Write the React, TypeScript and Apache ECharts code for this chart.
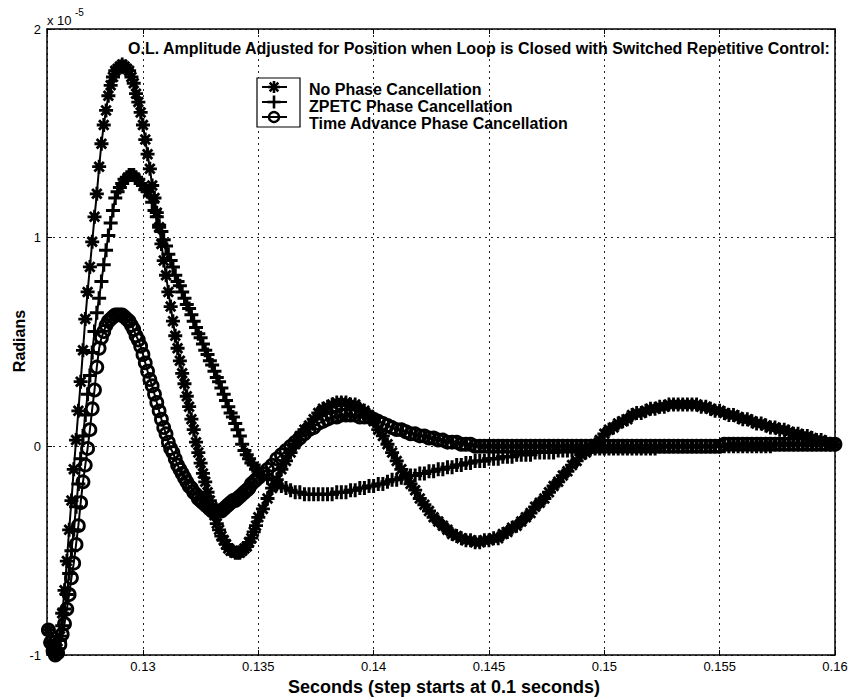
import React, { useEffect, useRef } from "react";
import * as echarts from "echarts";

// Sample times (s)
const timeSec = [
  0.1259, 0.1260, 0.1261, 0.1262, 0.1263, 0.1264, 0.1265, 0.1266, 0.1267, 0.1268,
  0.1269, 0.1270, 0.1271, 0.1272, 0.1273, 0.1274, 0.1275, 0.1276, 0.1277, 0.1278,
  0.1279, 0.1280, 0.1281, 0.1282, 0.1283, 0.1284, 0.1285, 0.1286, 0.1287, 0.1288,
  0.1289, 0.1290, 0.1291, 0.1292, 0.1293, 0.1294, 0.1295, 0.1296, 0.1297, 0.1298,
  0.1299, 0.1300, 0.1301, 0.1302, 0.1303, 0.1304, 0.1305, 0.1306, 0.1307, 0.1308,
  0.1309, 0.1310, 0.1311, 0.1312, 0.1313, 0.1314, 0.1315, 0.1316, 0.1317, 0.1318,
  0.1319, 0.1320, 0.1321, 0.1322, 0.1323, 0.1324, 0.1325, 0.1326, 0.1327, 0.1328,
  0.1329, 0.1330, 0.1331, 0.1332, 0.1333, 0.1334, 0.1335, 0.1336, 0.1337, 0.1338,
  0.1339, 0.1340, 0.1341, 0.1342, 0.1343, 0.1344, 0.1345, 0.1346, 0.1347, 0.1348,
  0.1349, 0.1350,
  0.1352, 0.1354, 0.1356, 0.1358, 0.1360, 0.1362, 0.1364, 0.1366, 0.1368, 0.1370,
  0.1372, 0.1374, 0.1376, 0.1378, 0.1380, 0.1382, 0.1384, 0.1386, 0.1388, 0.1390,
  0.1392, 0.1394, 0.1396, 0.1398, 0.1400, 0.1402, 0.1404, 0.1406, 0.1408, 0.1410,
  0.1412, 0.1414, 0.1416, 0.1418, 0.1420, 0.1422, 0.1424, 0.1426, 0.1428, 0.1430,
  0.1432, 0.1434, 0.1436, 0.1438, 0.1440, 0.1442, 0.1444, 0.1446, 0.1448, 0.1450,
  0.1452, 0.1454, 0.1456, 0.1458, 0.1460, 0.1462, 0.1464, 0.1466, 0.1468, 0.1470,
  0.1472, 0.1474, 0.1476, 0.1478, 0.1480, 0.1482, 0.1484, 0.1486, 0.1488, 0.1490,
  0.1492, 0.1494, 0.1496, 0.1498, 0.1500, 0.1502, 0.1504, 0.1506, 0.1508, 0.1510,
  0.1512, 0.1514, 0.1516, 0.1518, 0.1520, 0.1522, 0.1524, 0.1526, 0.1528, 0.1530,
  0.1532, 0.1534, 0.1536, 0.1538, 0.1540, 0.1542, 0.1544, 0.1546, 0.1548, 0.1550,
  0.1552, 0.1554, 0.1556, 0.1558, 0.1560, 0.1562, 0.1564, 0.1566, 0.1568, 0.1570,
  0.1572, 0.1574, 0.1576, 0.1578, 0.1580, 0.1582, 0.1584, 0.1586, 0.1588, 0.1590,
  0.1592, 0.1594, 0.1596, 0.1598, 0.1600,
];

// Radians (x 10^-5)
const noPhaseCancellation = [
  -0.88, -0.94, -0.98, -1.00, -0.97, -0.91, -0.80, -0.69, -0.55, -0.40,
  -0.26, -0.11, 0.03, 0.17, 0.31, 0.46, 0.61, 0.74, 0.86, 0.98,
  1.10, 1.21, 1.34, 1.45, 1.54, 1.61, 1.68, 1.73, 1.77, 1.80,
  1.81, 1.82, 1.83, 1.82, 1.81, 1.80, 1.77, 1.74, 1.69, 1.65,
  1.60, 1.54, 1.47, 1.40, 1.33, 1.25, 1.19, 1.12, 1.05, 0.97,
  0.89, 0.82, 0.74, 0.67, 0.60, 0.53, 0.47, 0.41, 0.35, 0.30,
  0.24, 0.19, 0.13, 0.08, 0.02, -0.03, -0.08, -0.13, -0.17, -0.22,
  -0.26, -0.29, -0.33, -0.37, -0.40, -0.43, -0.45, -0.47, -0.49, -0.50,
  -0.50, -0.51, -0.51, -0.51, -0.50, -0.49, -0.48, -0.46, -0.44, -0.41,
  -0.38, -0.34,
  -0.30, -0.25, -0.20, -0.16, -0.11, -0.07, -0.03, 0.01, 0.05, 0.08,
  0.10, 0.13, 0.16, 0.18, 0.19, 0.20, 0.21, 0.21, 0.21, 0.20,
  0.20, 0.18, 0.17, 0.15, 0.12, 0.08, 0.05, 0.01, -0.03, -0.07,
  -0.11, -0.14, -0.18, -0.21, -0.25, -0.28, -0.31, -0.34, -0.36, -0.38,
  -0.40, -0.42, -0.43, -0.44, -0.45, -0.45, -0.46, -0.46, -0.45, -0.45,
  -0.44, -0.44, -0.42, -0.41, -0.39, -0.38, -0.36, -0.34, -0.32, -0.29,
  -0.27, -0.25, -0.22, -0.19, -0.17, -0.14, -0.12, -0.09, -0.07, -0.04,
  -0.03, -0.01, 0.01, 0.03, 0.06, 0.08, 0.09, 0.11, 0.12, 0.13,
  0.15, 0.16, 0.16, 0.17, 0.18, 0.18, 0.19, 0.19, 0.20, 0.20,
  0.20, 0.20, 0.20, 0.20, 0.20, 0.19, 0.19, 0.18, 0.17, 0.17,
  0.16, 0.15, 0.15, 0.14, 0.13, 0.13, 0.12, 0.11, 0.11, 0.10,
  0.09, 0.09, 0.08, 0.08, 0.07, 0.06, 0.06, 0.05, 0.05, 0.04,
  0.03, 0.03, 0.02, 0.01, 0.01,
];

const zpetcCancellation = [
  -0.88, -0.94, -0.98, -1.00, -0.99, -0.93, -0.86, -0.78, -0.71, -0.61,
  -0.50, -0.40, -0.29, -0.18, -0.06, 0.05, 0.15, 0.25, 0.34, 0.45,
  0.55, 0.64, 0.71, 0.79, 0.87, 0.94, 1.01, 1.07, 1.13, 1.19,
  1.22, 1.24, 1.26, 1.28, 1.29, 1.30, 1.30, 1.30, 1.29, 1.28,
  1.26, 1.25, 1.23, 1.22, 1.20, 1.17, 1.13, 1.10, 1.06, 1.03,
  0.99, 0.96, 0.92, 0.89, 0.86, 0.82, 0.79, 0.77, 0.74, 0.71,
  0.68, 0.66, 0.63, 0.60, 0.57, 0.54, 0.52, 0.49, 0.46, 0.44,
  0.41, 0.39, 0.36, 0.33, 0.31, 0.28, 0.25, 0.22, 0.19, 0.16,
  0.14, 0.11, 0.08, 0.05, 0.01, -0.02, -0.04, -0.06, -0.08, -0.09,
  -0.11, -0.12,
  -0.14, -0.15, -0.16, -0.18, -0.19, -0.20, -0.21, -0.22, -0.22, -0.23,
  -0.23, -0.23, -0.23, -0.23, -0.23, -0.23, -0.22, -0.22, -0.22, -0.21,
  -0.21, -0.20, -0.20, -0.19, -0.19, -0.18, -0.18, -0.17, -0.16, -0.16,
  -0.15, -0.15, -0.14, -0.14, -0.13, -0.13, -0.12, -0.12, -0.11, -0.11,
  -0.10, -0.10, -0.09, -0.09, -0.08, -0.08, -0.07, -0.07, -0.07, -0.06,
  -0.06, -0.06, -0.05, -0.05, -0.05, -0.04, -0.04, -0.04, -0.04, -0.03,
  -0.03, -0.03, -0.03, -0.03, -0.02, -0.02, -0.02, -0.02, -0.01, -0.01,
  -0.01, -0.01, -0.01, -0.01, -0.01, -0.01, -0.01, -0.01, -0.01, -0.01,
  -0.01, -0.01, -0.01, -0.01, -0.01, -0.01, 0.00, 0.00, 0.00, 0.00,
  0.00, 0.00, 0.00, 0.00, 0.00, 0.00, 0.00, 0.00, 0.00, 0.00,
  0.00, 0.00, 0.00, 0.00, 0.00, 0.00, 0.00, 0.00, 0.00, 0.00,
  0.00, 0.01, 0.01, 0.01, 0.01, 0.01, 0.01, 0.01, 0.01, 0.01,
  0.01, 0.01, 0.01, 0.01, 0.01,
];

const timeAdvanceCancellation = [
  -0.88, -0.94, -0.98, -1.00, -0.99, -0.95, -0.90, -0.85, -0.78, -0.71,
  -0.63, -0.56, -0.47, -0.38, -0.27, -0.17, -0.09, -0.01, 0.08, 0.18,
  0.27, 0.38, 0.47, 0.52, 0.55, 0.58, 0.60, 0.61, 0.62, 0.63,
  0.63, 0.63, 0.63, 0.62, 0.61, 0.60, 0.58, 0.56, 0.53, 0.51,
  0.48, 0.44, 0.40, 0.36, 0.32, 0.29, 0.25, 0.21, 0.17, 0.13,
  0.09, 0.06, 0.02, -0.01, -0.03, -0.06, -0.09, -0.11, -0.13, -0.15,
  -0.17, -0.19, -0.20, -0.22, -0.23, -0.25, -0.26, -0.27, -0.28, -0.29,
  -0.30, -0.31, -0.31, -0.31, -0.31, -0.31, -0.30, -0.29, -0.28, -0.27,
  -0.26, -0.26, -0.25, -0.24, -0.23, -0.22, -0.21, -0.20, -0.18, -0.17,
  -0.16, -0.15,
  -0.13, -0.11, -0.09, -0.06, -0.04, -0.02, 0.00, 0.02, 0.04, 0.06,
  0.08, 0.09, 0.11, 0.12, 0.13, 0.14, 0.14, 0.15, 0.15, 0.15,
  0.15, 0.14, 0.14, 0.14, 0.13, 0.12, 0.11, 0.10, 0.09, 0.08,
  0.08, 0.07, 0.06, 0.06, 0.05, 0.05, 0.04, 0.04, 0.03, 0.03,
  0.02, 0.02, 0.02, 0.01, 0.01, 0.01, 0.00, 0.00, 0.00, 0.00,
  0.00, 0.00, 0.00, 0.00, 0.00, 0.00, 0.00, 0.00, 0.00, 0.00,
  0.00, 0.00, 0.00, 0.00, 0.00, 0.00, 0.00, 0.00, 0.00, 0.00,
  0.00, 0.00, 0.00, 0.00, 0.00, 0.00, 0.00, 0.00, 0.00, 0.00,
  0.00, 0.00, 0.00, 0.00, 0.00, 0.00, 0.00, 0.00, 0.00, 0.00,
  0.00, 0.00, 0.00, 0.00, 0.00, 0.00, 0.00, 0.00, 0.00, 0.00,
  0.01, 0.01, 0.01, 0.01, 0.01, 0.01, 0.01, 0.01, 0.01, 0.01,
  0.01, 0.01, 0.01, 0.01, 0.01, 0.01, 0.01, 0.01, 0.01, 0.01,
  0.01, 0.01, 0.01, 0.01, 0.01,
];

const seriesNames = [
  "No Phase Cancellation",
  "ZPETC Phase Cancellation",
  "Time Advance Phase Cancellation",
];
const titleText =
  "O.L. Amplitude Adjusted for Position when Loop is Closed with Switched Repetitive Control:";
const xAxisTitle = "Seconds (step starts at 0.1 seconds)";
const yAxisTitle = "Radians";
const xRange = [0.12584, 0.16];
const yRange = [-1, 2];

const FONT = "'Liberation Sans', Arial, Helvetica, sans-serif";
const ASTERISK = "path://M5,0L5,10M0,5L10,5M1.6,1.6L8.4,8.4M1.6,8.4L8.4,1.6";
const PLUS = "path://M5,0L5,10M0,5L10,5";

function txt(text: string, x: number, y: number, font: string, align = "left", extra: any = {}) {
  return {
    type: "text",
    x,
    y,
    silent: true,
    z: 100,
    ...extra,
    style: {
      text,
      font,
      fill: "#000",
      textAlign: align,
      textVerticalAlign: "middle",
      align,
      verticalAlign: "middle",
    },
  };
}

function seg(x1: number, y1: number, x2: number, y2: number, w = 2) {
  return {
    type: "line",
    silent: true,
    z: 101,
    shape: { x1, y1, x2, y2 },
    style: { stroke: "#000", lineWidth: w },
  };
}

export default function App() {
  const ref = useRef<HTMLDivElement>(null);

  useEffect(() => {
    if (!ref.current) return;
    const chart = echarts.init(ref.current, undefined, { renderer: "svg" });

    const mk = (vals: number[]) => timeSec.map((t, i) => [t, vals[i]]);
    const baseSeries = (name: string, vals: number[], symbol: string, size: number, bw: number) => ({
      type: "line",
      name,
      data: mk(vals),
      symbol,
      symbolSize: size,
      showSymbol: true,
      showAllSymbol: true,
      clip: false,
      silent: true,
      lineStyle: { color: "#000", width: 2 },
      itemStyle: { color: "rgba(0,0,0,0)", borderColor: "#000", borderWidth: bw },
      emphasis: { disabled: true },
      xAxisIndex: 0,
      yAxisIndex: 0,
    });

    // legend drawing
    const lx = 274;
    const rows = [87, 102, 117];
    const legendGraphics: any[] = [
      {
        type: "rect",
        silent: true,
        z: 99,
        shape: { x: 257, y: 78, width: 43, height: 49 },
        style: { fill: "#fff", stroke: "#000", lineWidth: 1.2 },
      },
      seg(262, rows[0], 287, rows[0]),
      seg(lx, rows[0] - 6, lx, rows[0] + 6, 2.6),
      seg(lx - 6, rows[0], lx + 6, rows[0], 2.6),
      seg(lx - 4.3, rows[0] - 4.3, lx + 4.3, rows[0] + 4.3, 2.6),
      seg(lx - 4.3, rows[0] + 4.3, lx + 4.3, rows[0] - 4.3, 2.6),
      seg(262, rows[1], 287, rows[1]),
      seg(lx, rows[1] - 6.5, lx, rows[1] + 6.5, 2.6),
      seg(lx - 6.5, rows[1], lx + 6.5, rows[1], 2.6),
      seg(262, rows[2], 287, rows[2]),
      {
        type: "circle",
        silent: true,
        z: 102,
        shape: { cx: lx, cy: rows[2], r: 5 },
        style: { fill: "none", stroke: "#000", lineWidth: 2.4 },
      },
      txt(seriesNames[0], 309, 89, `bold 16px ${FONT}`),
      txt(seriesNames[1], 309, 106, `bold 16px ${FONT}`),
      txt(seriesNames[2], 309, 123, `bold 16px ${FONT}`),
    ];

    const option: any = {
      animation: false,
      backgroundColor: "#fff",
      grid: { left: 47, right: 16, top: 29, bottom: 43, show: false },
      xAxis: [
        {
          type: "value",
          min: xRange[0],
          max: xRange[1],
          position: "bottom",
          axisLine: { show: true, onZero: false, lineStyle: { color: "#000", width: 1.5 } },
          axisTick: { show: true, inside: true, length: 5, lineStyle: { color: "#000" } },
          axisLabel: {
            showMinLabel: false,
            color: "#000",
            fontSize: 13,
            fontFamily: FONT,
            margin: 5,
          },
          splitLine: {
            show: true,
            lineStyle: { color: "#222", width: 1, type: [2, 4] },
          },
        },
        {
          type: "value",
          min: xRange[0],
          max: xRange[1],
          position: "top",
          axisLine: { show: true, onZero: false, lineStyle: { color: "#000", width: 1.5 } },
          axisTick: { show: true, inside: true, length: 5, lineStyle: { color: "#000" } },
          axisLabel: { show: false },
          splitLine: { show: false },
        },
      ],
      yAxis: [
        {
          type: "value",
          min: yRange[0],
          max: yRange[1],
          interval: 1,
          position: "left",
          axisLine: { show: true, onZero: false, lineStyle: { color: "#000", width: 1.5 } },
          axisTick: { show: true, inside: true, length: 5, lineStyle: { color: "#000" } },
          axisLabel: { color: "#000", fontSize: 13, fontFamily: FONT, margin: 6 },
          splitLine: {
            show: true,
            lineStyle: { color: "#222", width: 1, type: [2, 4] },
          },
        },
        {
          type: "value",
          min: yRange[0],
          max: yRange[1],
          interval: 1,
          position: "right",
          axisLine: { show: true, onZero: false, lineStyle: { color: "#000", width: 1.5 } },
          axisTick: { show: true, inside: true, length: 5, lineStyle: { color: "#000" } },
          axisLabel: { show: false },
          splitLine: { show: false },
        },
      ],
      series: [
        baseSeries(seriesNames[0], noPhaseCancellation, ASTERISK, 14, 2.8),
        baseSeries(seriesNames[1], zpetcCancellation, PLUS, 14, 3),
        baseSeries(seriesNames[2], timeAdvanceCancellation, "circle", 12, 2.8),
      ],
      graphic: [
        txt(titleText, 128, 48, `bold 16px ${FONT}`),
        txt("x 10", 47, 20, `13px ${FONT}`),
        txt("-5", 75, 12, `10px ${FONT}`),
        txt(xAxisTitle, 444, 687, `bold 18px ${FONT}`, "center"),
        txt(yAxisTitle, 19, 341, `bold 16px ${FONT}`, "center", { rotation: Math.PI / 2 }),
        ...legendGraphics,
      ],
    };

    chart.setOption(option);
    return () => chart.dispose();
  }, []);

  return (
    <div
      ref={ref}
      style={{ position: "absolute", left: 0, top: 0, width: 851, height: 698, background: "#fff" }}
    />
  );
}
